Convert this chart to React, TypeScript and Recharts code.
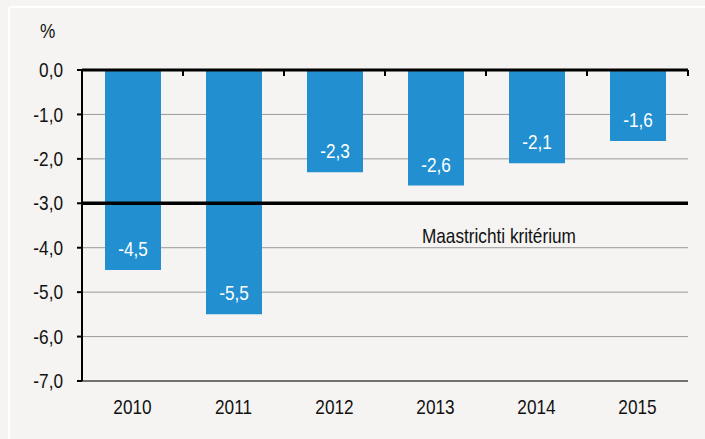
import { Bar, BarChart, CartesianGrid, LabelList, ReferenceLine, XAxis, YAxis } from "recharts";

const years = ["2010", "2011", "2012", "2013", "2014", "2015"];
const deficit = [-4.5, -5.5, -2.3, -2.6, -2.1, -1.6];
const yTicks = [-7, -6, -5, -4, -3, -2, -1, 0];
const limit = -3;
const limitLabel = "Maastrichti kritérium";

const data = years.map((year, i) => ({ year, value: deficit[i] }));

const font = "'Liberation Sans', Arial, sans-serif";
const fmt = (v: number) => v.toFixed(1).replace(".", ",");
const W = 705;
const H = 439;
const plotTop = 70;
const plotLeft = 82;
const plotRight = 17;
const band = (W - plotLeft - plotRight) / years.length;
const squeeze = 0.82;

// text squeezed horizontally, to look like the narrow font of the original
const Narrow = ({ x, y, anchor = "middle", fill = "#111", size = 20, children }: any) => (
  <text
    transform={`translate(${x},${y}) scale(${squeeze},1)`}
    textAnchor={anchor}
    dominantBaseline="central"
    fill={fill}
    fontSize={size}
    fontFamily={font}
  >
    {children}
  </text>
);

const BarValue = (props: any) => {
  const { x, y, width, height, value } = props;
  const bottom = Math.max(y, y + height);
  return (
    <Narrow x={x + width / 2} y={bottom - 21} fill="#fff" size={21}>
      {fmt(value)}
    </Narrow>
  );
};

const LimitText = (props: any) => {
  const { x, y, width } = props.viewBox;
  return (
    <Narrow x={x + width * 0.688} y={y + 33} size={21}>
      {limitLabel}
    </Narrow>
  );
};

const YearTick = (props: any) => {
  const { x, y, payload, index } = props;
  return (
    <g>
      <line x1={x - band / 2} x2={x - band / 2} y1={plotTop} y2={plotTop + 6} stroke="#000" strokeWidth={2} />
      {index === years.length - 1 && (
        <line x1={x + band / 2} x2={x + band / 2} y1={plotTop} y2={plotTop + 6} stroke="#000" strokeWidth={2} />
      )}
      <Narrow x={x} y={y + 18} size={21}>
        {payload.value}
      </Narrow>
    </g>
  );
};

const ValueTick = (props: any) => {
  const { x, y, payload } = props;
  return (
    <Narrow x={x} y={y} anchor="end" size={21}>
      {fmt(payload.value)}
    </Narrow>
  );
};

export default function App() {
  return (
    <div style={{ position: "absolute", left: 0, top: 0, width: W, height: H, background: "#f5f4f2", overflow: "hidden" }}>
      <div style={{ position: "absolute", left: 8, top: 6, width: 720, height: 460, border: "2px solid #ffffff", borderRadius: 3 }} />
      <span style={{ position: "absolute", left: 40, top: 19, fontFamily: font, fontSize: 21, color: "#111", transform: `scaleX(${squeeze})`, transformOrigin: "left" }}>%</span>
      <BarChart width={W} height={H} data={data} margin={{ top: plotTop, right: plotRight, bottom: 28, left: 0 }} style={{ position: "absolute", left: 0, top: 0 }}>
        <CartesianGrid vertical={false} stroke="#9a9a9a" strokeWidth={1} />
        <XAxis dataKey="year" height={30} axisLine={{ stroke: "#555", strokeWidth: 1.5 }} tickLine={false} tick={YearTick} />
        <YAxis domain={[-7, 0]} ticks={yTicks} width={plotLeft} axisLine={{ stroke: "#000", strokeWidth: 2 }} tickLine={{ stroke: "#000", strokeWidth: 2 }} tickSize={5} tickMargin={14} tick={ValueTick} />
        <YAxis yAxisId="right" orientation="right" width={0} domain={[-7, 0]} tick={false} tickLine={false} axisLine={{ stroke: "#777", strokeWidth: 1.5 }} />
        <Bar dataKey="value" fill="#2290d0" barSize={56} isAnimationActive={false}>
          <LabelList dataKey="value" content={BarValue} />
        </Bar>
        <ReferenceLine y={0} stroke="#000" strokeWidth={3} />
        <ReferenceLine y={limit} stroke="#000" strokeWidth={3.5} label={LimitText} />
      </BarChart>
    </div>
  );
}
